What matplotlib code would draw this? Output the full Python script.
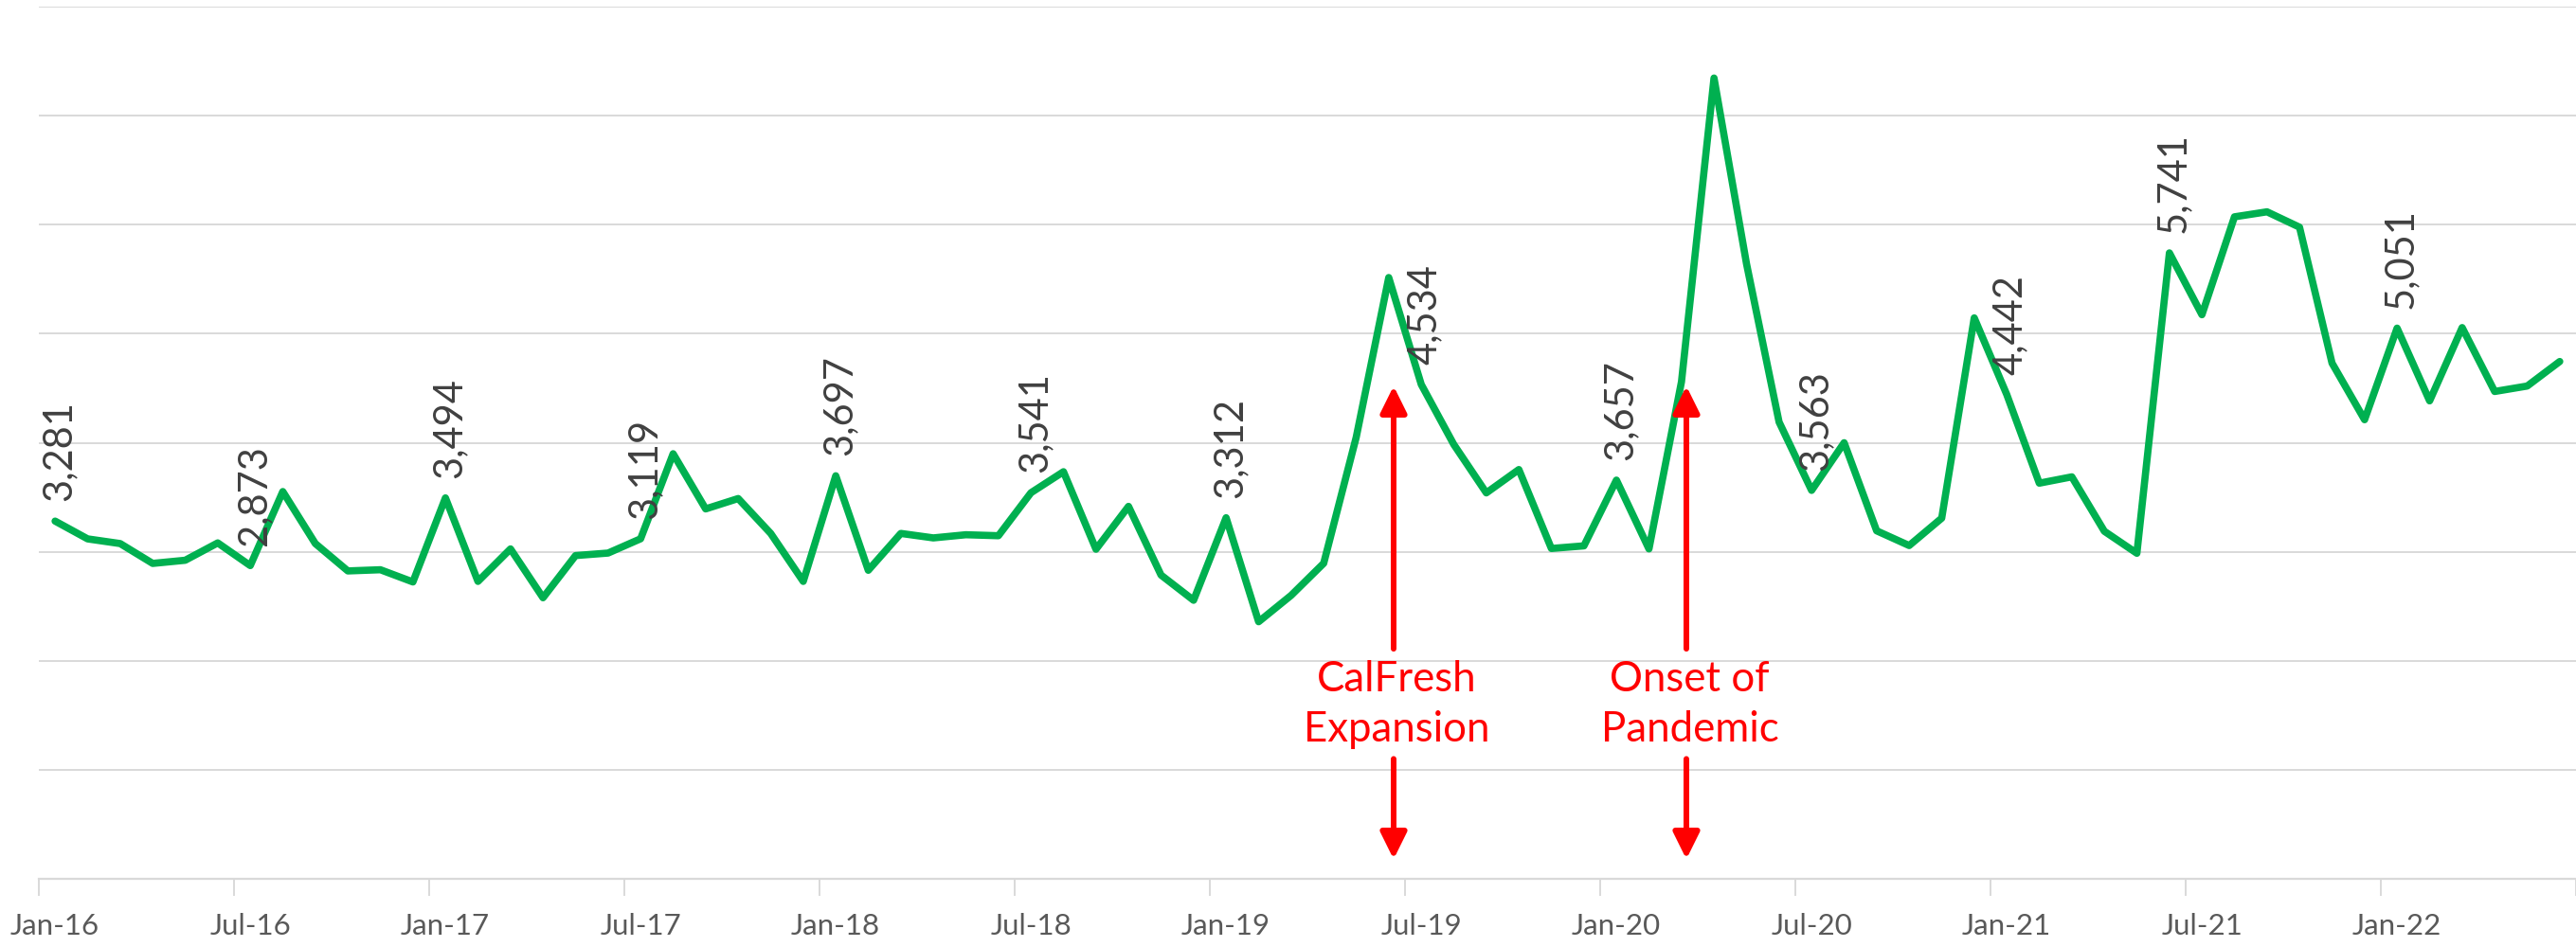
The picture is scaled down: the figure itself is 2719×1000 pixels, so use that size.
import matplotlib
matplotlib.use("Agg")
import matplotlib.pyplot as plt
import numpy as np
import pandas as pd

plt.rcParams['font.family'] = ['Lato', 'DejaVu Sans']

# ---- data ----
months = pd.date_range("2016-01-01", periods=78, freq="MS").strftime("%b-%y").tolist()
values = [3281, 3118, 3075, 2893, 2922, 3081, 2873, 3552, 3075, 2824, 2835, 2723,
          3494, 2728, 3026, 2578, 2965, 2988, 3119, 3899, 3393, 3488, 3168, 2728,
          3697, 2830, 3168, 3127, 3156, 3147, 3541, 3734, 3023, 3416, 2786, 2555,
          3312, 2358, 2600, 2894, 4050, 5515, 4534, 3984, 3540, 3754, 3030, 3054,
          3657, 3026, 4560, 7345, 5640, 4190, 3563, 4000, 3192, 3057, 3308, 5145,
          4442, 3629, 3687, 3188, 2986, 5741, 5174, 6072, 6118, 5977, 4730, 4211,
          5051, 4384, 5056, 4470, 4520, 4745]
label_months = ["Jan-16", "Jul-16", "Jan-17", "Jul-17", "Jan-18", "Jul-18", "Jan-19",
                "Jul-19", "Jan-20", "Jul-20", "Jan-21", "Jun-21", "Jan-22"]
tick_labels = ["Jan-16", "Jul-16", "Jan-17", "Jul-17", "Jan-18", "Jul-18", "Jan-19",
               "Jul-19", "Jan-20", "Jul-20", "Jan-21", "Jul-21", "Jan-22"]
events = ["CalFresh\nExpansion", "Onset of\nPandemic"]
event_pos = [41.15, 50.15]   # month offsets from Jan-16 (slot index)

# ---- figure ----
W, H, DPI = 2719, 1000, 100
fig = plt.figure(figsize=(W / DPI, H / DPI), dpi=DPI)
ax = fig.add_axes([41 / W, 0.072, 1 - 41 / W, 0.993 - 0.072])

x = np.arange(len(values)) + 0.5
ax.plot(x, values, color='#00B050', lw=5.5, solid_joinstyle='round',
        solid_capstyle='round', zorder=3)

ax.set_xlim(0, len(values))
ax.set_ylim(0, 8000)
ax.set_yticks(np.arange(0, 8001, 1000))
ax.yaxis.grid(True, color='#D9D9D9', lw=1.4)
ax.set_axisbelow(True)
ax.tick_params(axis='y', length=0, labelleft=False)

for s in ['left', 'right', 'top']:
    ax.spines[s].set_visible(False)
ax.spines['bottom'].set_color('#D9D9D9')
ax.spines['bottom'].set_linewidth(1.6)

ax.set_xticks(np.arange(0, len(values) + 1, 6))
ax.set_xticklabels([])
ax.tick_params(axis='x', which='major', length=13, width=1.4, color='#D9D9D9')
ax.set_xticks(np.arange(0, len(values), 6)[:len(tick_labels)] + 0.5, minor=True)
ax.set_xticklabels(tick_labels, minor=True)
ax.tick_params(axis='x', which='minor', length=0, pad=26, labelsize=22.5,
               labelcolor='#595959')

# data labels
for lab in label_months:
    i = months.index(lab)
    ax.annotate(f"{values[i]:,}", xy=(x[i], values[i]), xytext=(4, 21),
                textcoords='offset pixels', rotation=90, ha='center', va='bottom',
                fontsize=30, color='#404040', zorder=4)

# event annotations
for txt, pos in zip(events, event_pos):
    xp = pos + 0.5
    ax.annotate('', xy=(xp, 4520), xytext=(xp, 2110),
                arrowprops=dict(arrowstyle='-|>,head_length=0.85,head_width=0.42',
                                mutation_scale=20, lw=4.3, color='#FF0000',
                                shrinkA=0, shrinkB=0))
    ax.annotate('', xy=(xp, 180), xytext=(xp, 1100),
                arrowprops=dict(arrowstyle='-|>,head_length=0.85,head_width=0.42',
                                mutation_scale=20, lw=4.3, color='#FF0000',
                                shrinkA=0, shrinkB=0))
    ax.text(xp + 0.1, 1600, txt, ha='center', va='center', fontsize=31.5,
            color='#FF0000', linespacing=1.35)

fig.savefig("out.png", dpi=DPI)
